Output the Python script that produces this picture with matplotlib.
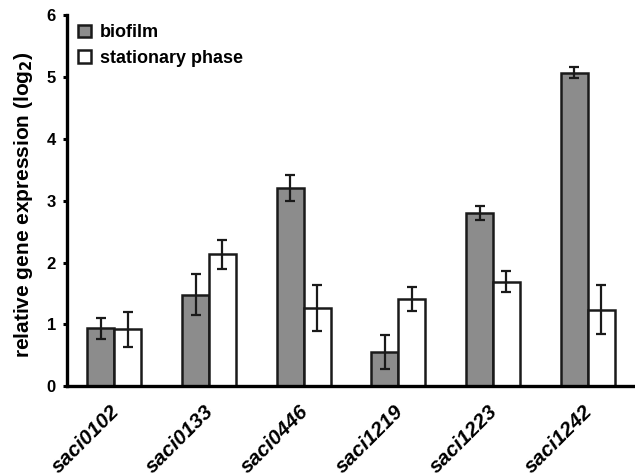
import numpy as np
import matplotlib
matplotlib.use("Agg")
from matplotlib import pyplot as plt

genes = ["saci0102", "saci0133", "saci0446", "saci1219", "saci1223", "saci1242"]
biofilm = [0.94, 1.48, 3.20, 0.55, 2.80, 5.07]
biofilm_err = [0.17, 0.33, 0.21, 0.28, 0.12, 0.09]
stationary = [0.92, 2.13, 1.27, 1.41, 1.69, 1.24]
stationary_err = [0.28, 0.23, 0.37, 0.20, 0.17, 0.40]

plt.rcParams["font.family"] = ["Liberation Sans", "DejaVu Sans"]
plt.rcParams["font.weight"] = "bold"

fig = plt.figure(figsize=(6.35, 4.75), dpi=100)
ax = fig.add_axes([0.1055, 0.187, 0.8945, 0.781])

x = np.arange(len(genes))
w = 0.285
err_kw = dict(ecolor="#1a1a1a", elinewidth=1.6, capsize=3.5, capthick=1.6)
ax.bar(x - w / 2, biofilm, w, yerr=biofilm_err, color="#8c8c8c",
       edgecolor="#1a1a1a", linewidth=1.8, label="biofilm", error_kw=err_kw)
ax.bar(x + w / 2, stationary, w, yerr=stationary_err, color="white",
       edgecolor="#1a1a1a", linewidth=1.8, label="stationary phase", error_kw=err_kw)

ax.set_xlim(-0.5, 5.5)
ax.set_ylim(0, 6)
ax.set_yticks(range(7))
ax.set_xticks(x - 0.05)
ax.set_xticklabels(genes, rotation=45, ha="right", rotation_mode="anchor",
                   fontstyle="italic", fontweight="bold", fontsize=15)
ax.tick_params(axis="x", length=0, pad=11)
ax.tick_params(axis="y", direction="out", length=3, width=2.2, labelsize=12, pad=5)
for lab in ax.get_yticklabels():
    lab.set_fontweight("bold")

ax.spines["top"].set_visible(False)
ax.spines["right"].set_visible(False)
ax.spines["left"].set_linewidth(2.4)
ax.spines["bottom"].set_linewidth(2.4)

ax.set_ylabel("relative gene expression (log$_\\mathbf{2}$)", fontsize=15,
              fontweight="bold")
ax.yaxis.set_label_coords(-0.056, 0.488)

ax.legend(loc="upper left", bbox_to_anchor=(0.02, 0.975), frameon=False,
          fontsize=13, handlelength=0.7, handleheight=0.7, handletextpad=0.5,
          labelspacing=0.45, borderaxespad=0, borderpad=0)

fig.savefig("out.png", dpi=100)
